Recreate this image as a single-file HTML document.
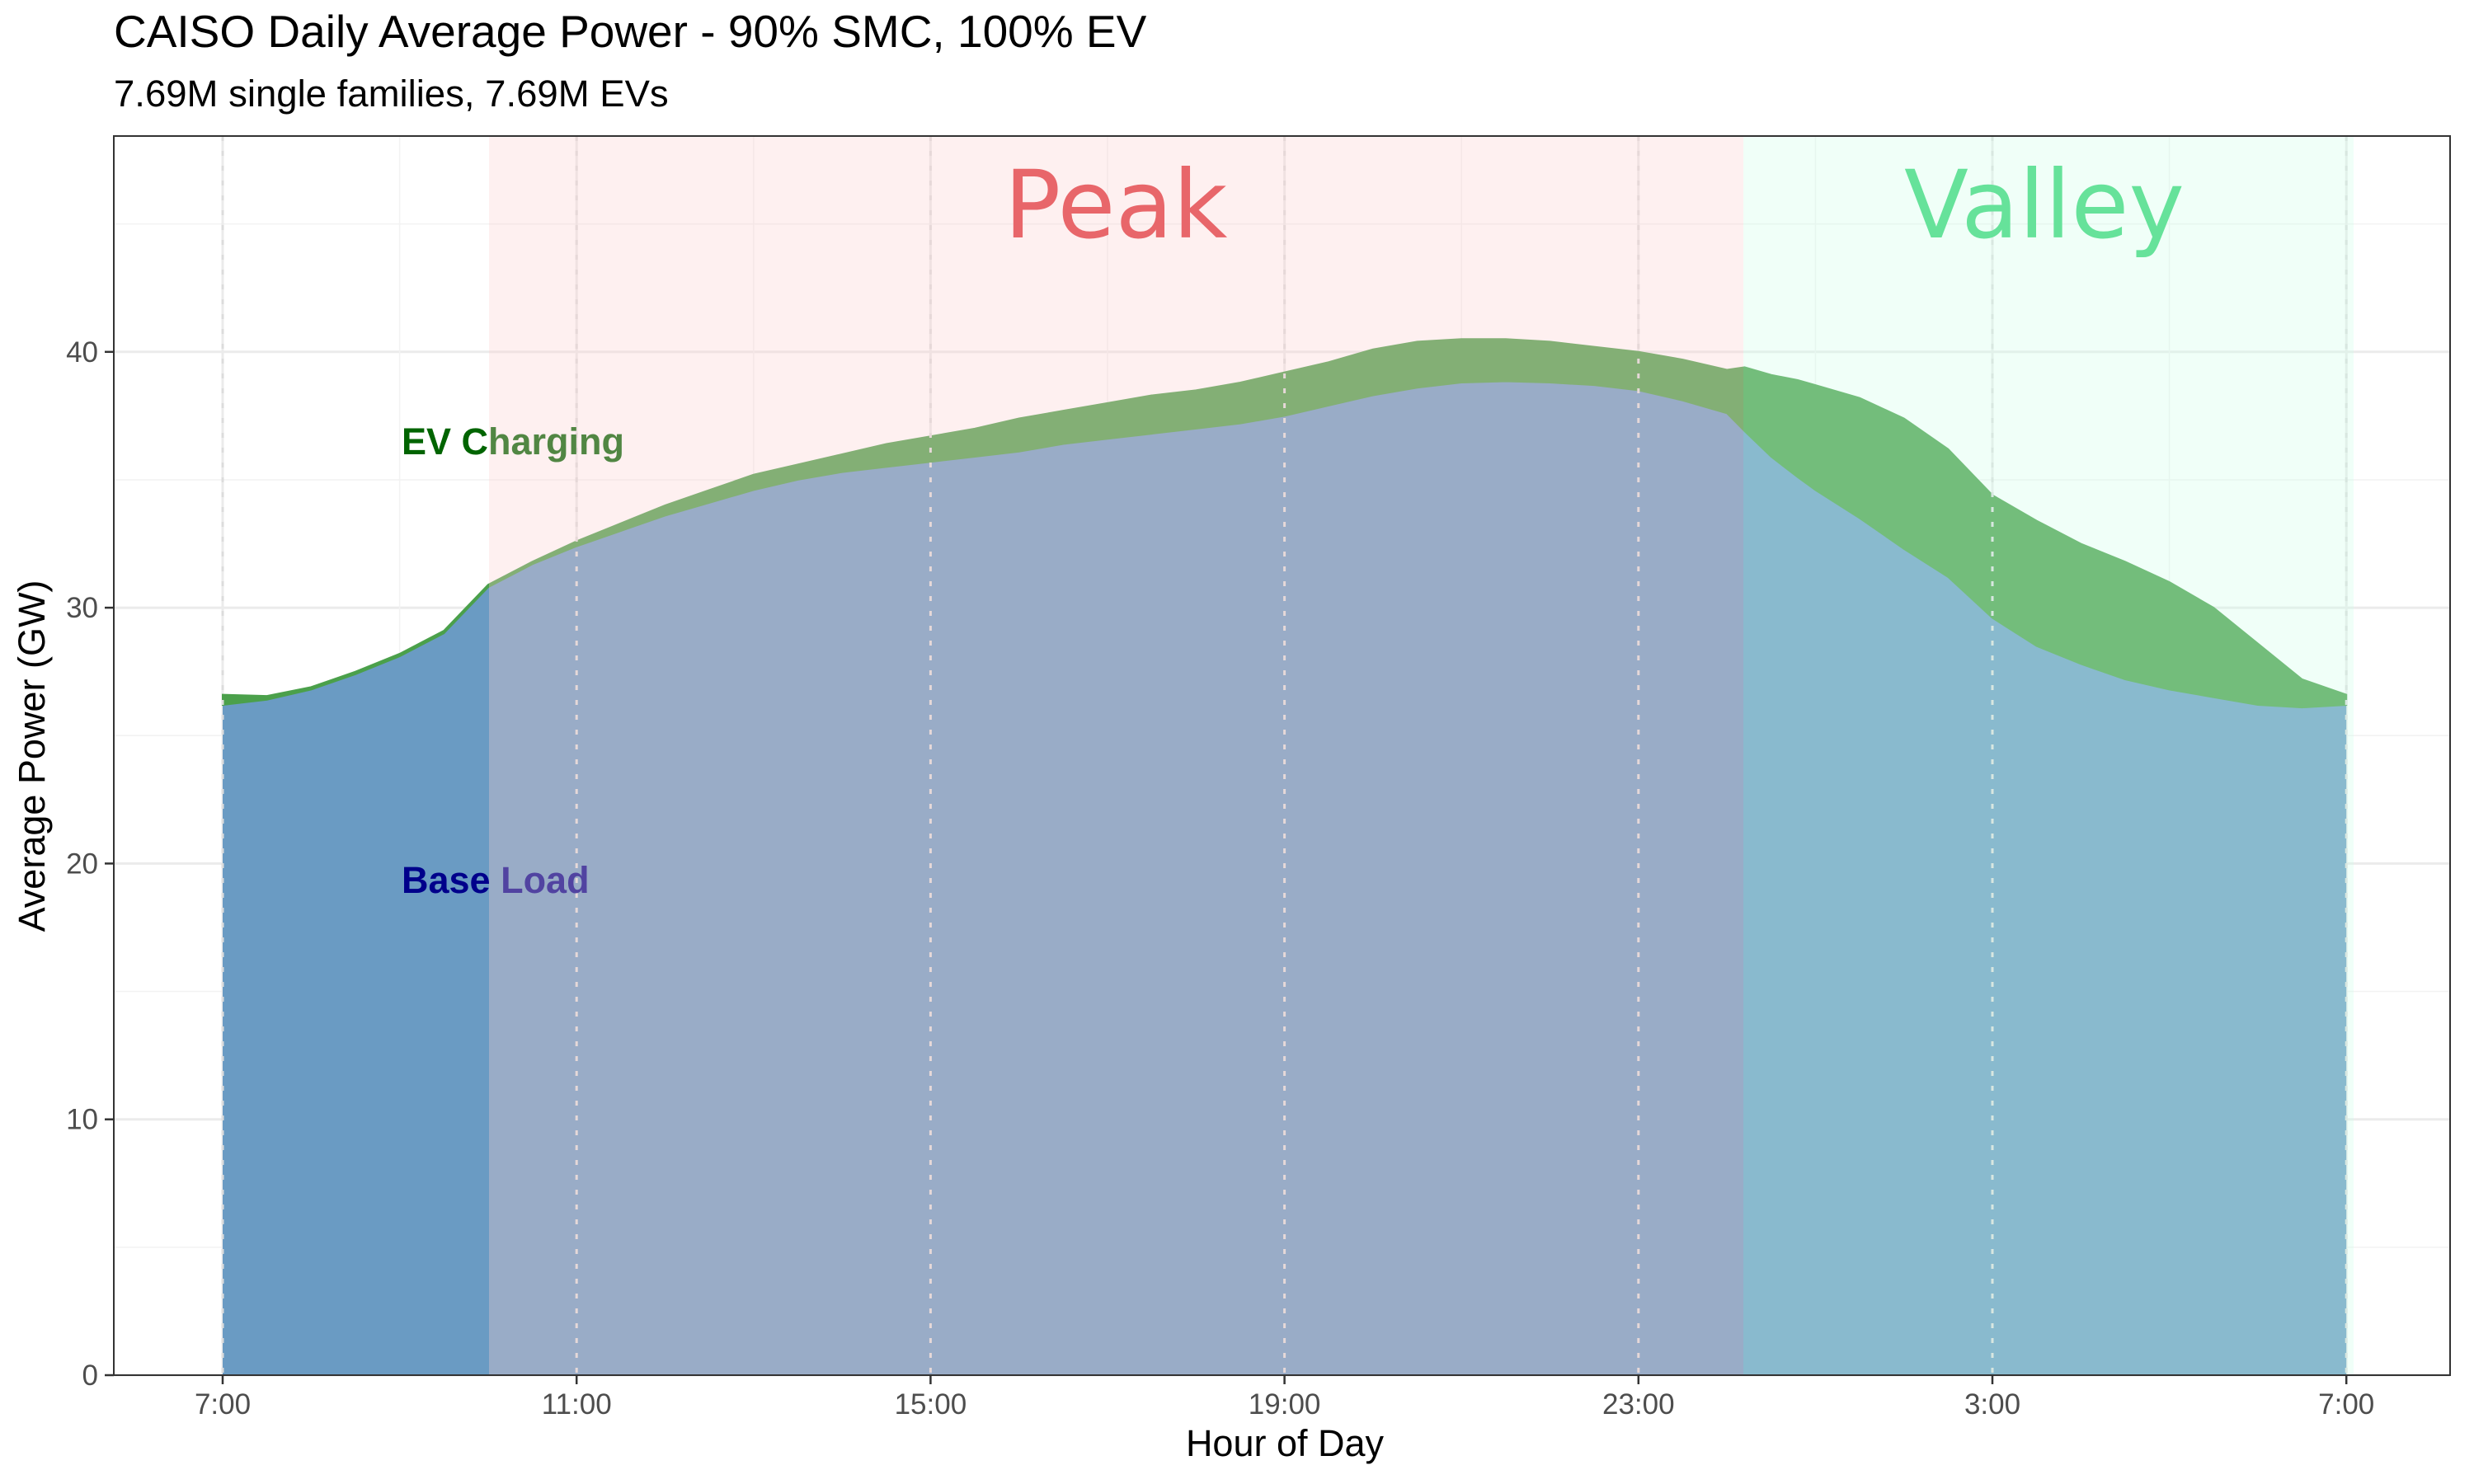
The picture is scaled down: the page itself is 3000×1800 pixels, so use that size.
<!DOCTYPE html>
<html><head><meta charset="utf-8"><style>
html,body{margin:0;padding:0;background:#fff;}
svg{display:block;font-family:"Liberation Sans",sans-serif;}
</style></head><body>
<svg id="s" width="3000" height="1800" viewBox="0 0 3000 1800" xmlns="http://www.w3.org/2000/svg">
<rect width="3000" height="1800" fill="#fff"/>
<g id="grid"></g>
<g id="data"></g>
<g id="vl"></g>
<text x="487" y="1083" font-size="45" font-weight="bold" fill="#00008b">Base Load</text>
<text x="487" y="551" font-size="45" font-weight="bold" fill="#006400">EV Charging</text>
<rect x="593" y="165" width="1521" height="1503" fill="rgb(253,208,208)" fill-opacity="0.32"/>
<rect x="2114" y="165" width="740" height="1503" fill="rgb(208,255,233)" fill-opacity="0.31"/>
<text x="1353" y="288" font-size="114" fill="#e8666a" text-anchor="middle" font-family="'DejaVu Sans',sans-serif">Peak</text>
<text x="2479" y="288" font-size="114" fill="#66e29a" text-anchor="middle" font-family="'DejaVu Sans',sans-serif">Valley</text>
<rect x="138" y="165" width="2833" height="1503" fill="none" stroke="#333" stroke-width="2"/>
<g id="ticks"></g>
<text x="138" y="57" font-size="55" fill="#000">CAISO Daily Average Power - 90% SMC, 100% EV</text>
<text x="138" y="129" font-size="45.5" fill="#000">7.69M single families, 7.69M EVs</text>
<text x="1558" y="1766" font-size="45" fill="#000" text-anchor="middle">Hour of Day</text>
<text transform="translate(54,917) rotate(-90)" font-size="45" fill="#000" text-anchor="middle">Average Power (GW)</text>
</svg>
<script>
var NS="http://www.w3.org/2000/svg";
function X(h){return 270+107.3*h;}
function Y(v){return 1668-31.03*v;}
function el(p,t,a,txt){var e=document.createElementNS(NS,t);for(var k in a)e.setAttribute(k,a[k]);if(txt!==undefined)e.textContent=txt;document.getElementById(p).appendChild(e);return e;}
for(var v=5;v<=45;v+=10)el("grid","line",{x1:138,x2:2971,y1:Y(v),y2:Y(v),stroke:"#f2f2f2","stroke-width":1.5});
for(var v=0;v<=40;v+=10)el("grid","line",{x1:138,x2:2971,y1:Y(v),y2:Y(v),stroke:"#ebebeb","stroke-width":3});
for(var h=2;h<=22;h+=4)el("grid","line",{x1:X(h),x2:X(h),y1:165,y2:1668,stroke:"#f2f2f2","stroke-width":1.5});
for(var h=0;h<=24;h+=4)el("grid","line",{x1:X(h),x2:X(h),y1:165,y2:1668,stroke:"#ebebeb","stroke-width":3});
var d=[[0,26.2,26.6],[0.5,26.4,26.55],[1,26.8,26.9],[1.5,27.4,27.5],[2,28.1,28.2],[2.5,29.0,29.1],[3,30.8,30.9],[3.5,31.7,31.8],[4,32.4,32.6],[4.5,33.0,33.3],[5,33.6,34.0],[5.5,34.1,34.6],[6,34.6,35.2],[6.5,35.0,35.6],[7,35.3,36.0],[7.5,35.5,36.4],[8,35.7,36.7],[8.5,35.9,37.0],[9,36.1,37.4],[9.5,36.4,37.7],[10,36.6,38.0],[10.5,36.8,38.3],[11,37.0,38.5],[11.5,37.2,38.8],[12,37.5,39.2],[12.5,37.9,39.6],[13,38.3,40.1],[13.5,38.6,40.4],[14,38.8,40.5],[14.5,38.85,40.5],[15,38.8,40.4],[15.5,38.7,40.2],[16,38.5,40.0],[16.5,38.1,39.7],[17,37.6,39.3],[17.2,36.9,39.4],[17.5,35.9,39.1],[17.8,35.1,38.9],[18,34.6,38.7],[18.5,33.5,38.2],[19,32.3,37.4],[19.5,31.2,36.2],[20,29.6,34.4],[20.5,28.5,33.4],[21,27.8,32.5],[21.5,27.2,31.8],[22,26.8,31.0],[22.5,26.5,30.0],[23,26.2,28.6],[23.5,26.1,27.2],[24,26.2,26.6]];
var base="M"+X(0)+","+Y(0);
d.forEach(function(p){base+=" L"+X(p[0])+","+Y(p[1]);});
base+=" L"+X(24)+","+Y(0)+" Z";
var ev="M"+X(d[0][0])+","+Y(d[0][2]);
for(var i=1;i<d.length;i++)ev+=" L"+X(d[i][0])+","+Y(d[i][2]);
for(var i=d.length-1;i>=0;i--)ev+=" L"+X(d[i][0])+","+Y(d[i][1]);
ev+=" Z";
el("data","path",{d:base,fill:"rgb(106,155,195)"});
el("data","path",{d:ev,fill:"rgb(75,160,75)",stroke:"rgb(75,160,75)","stroke-width":2});
for(var h=0;h<=24;h+=4)el("vl","line",{x1:X(h),x2:X(h),y1:165,y2:1668,stroke:"#dcdcdc","stroke-width":3,"stroke-dasharray":"6 12"});
var lab=["7:00","11:00","15:00","19:00","23:00","3:00","7:00"];
for(var i=0;i<7;i++){var h=i*4;el("ticks","line",{x1:X(h),x2:X(h),y1:1668,y2:1679,stroke:"#333","stroke-width":2.5});el("ticks","text",{x:X(h),y:1715,"font-size":35,fill:"#4d4d4d","text-anchor":"middle"},lab[i]);}
for(var v=0;v<=40;v+=10){el("ticks","line",{x1:127,x2:138,y1:Y(v),y2:Y(v),stroke:"#333","stroke-width":2.5});el("ticks","text",{x:119,y:Y(v)+12,"font-size":35,fill:"#4d4d4d","text-anchor":"end"},""+v);}
</script>
</body></html>
